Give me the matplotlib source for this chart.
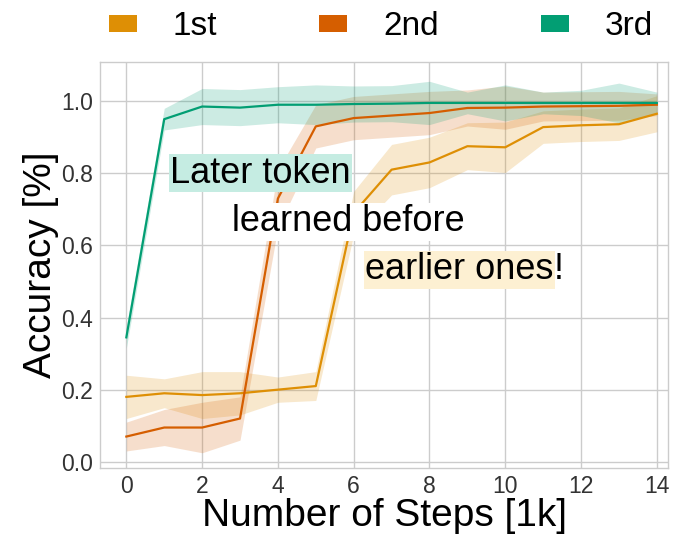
import numpy as np
import matplotlib.pyplot as plt
from matplotlib.patches import Patch

# training steps (in thousands)
steps = np.arange(15)

# mean accuracy per token position
acc_1st = [0.18, 0.19, 0.185, 0.19, 0.20, 0.21, 0.69, 0.81, 0.83, 0.875, 0.872, 0.928, 0.933, 0.936, 0.965]
acc_2nd = [0.07, 0.095, 0.095, 0.12, 0.73, 0.93, 0.953, 0.96, 0.967, 0.981, 0.982, 0.985, 0.986, 0.987, 0.99]
acc_3rd = [0.345, 0.95, 0.985, 0.982, 0.99, 0.99, 0.992, 0.993, 0.995, 0.995, 0.995, 0.995, 0.995, 0.995, 0.995]

# spread (std) across runs
std_1st = [0.06, 0.04, 0.065, 0.06, 0.035, 0.04, 0.06, 0.07, 0.07, 0.065, 0.07, 0.045, 0.045, 0.045, 0.05]
std_2nd = [0.04, 0.05, 0.07, 0.06, 0.08, 0.06, 0.06, 0.06, 0.06, 0.05, 0.06, 0.04, 0.04, 0.04, 0.03]
std_3rd = [0.03, 0.03, 0.05, 0.05, 0.05, 0.055, 0.05, 0.05, 0.06, 0.03, 0.05, 0.03, 0.035, 0.055, 0.03]

labels = ["1st", "2nd", "3rd"]
colors = ["#DE8F05", "#D55E00", "#029E73"]

plt.rcParams['font.family'] = ['Liberation Sans', 'DejaVu Sans']

fig = plt.figure(figsize=(6.77, 5.36), dpi=100)
ax = fig.add_axes([0.148, 0.127, 0.839, 0.757])

for mean, sd, c in zip([acc_1st, acc_2nd, acc_3rd], [std_1st, std_2nd, std_3rd], colors):
    mean = np.array(mean)
    sd = np.array(sd)
    ax.fill_between(steps, mean - sd, mean + sd, color=c, alpha=0.2, lw=0)
    ax.plot(steps, mean, color=c, lw=1.6)

ax.set_xlim(-0.69, 14.3)
ax.set_ylim(-0.017, 1.108)
ax.set_xticks(range(0, 15, 2))
ax.set_yticks([0.0, 0.2, 0.4, 0.6, 0.8, 1.0])
ax.set_yticklabels(["0.0", "0.2", "0.4", "0.6", "0.8", "1.0"])
ax.tick_params(labelsize=16.5, colors="#333333", length=0)
ax.tick_params(axis="x", pad=5)
ax.tick_params(axis="y", pad=5)
ax.grid(True, color="#cccccc", lw=1)
ax.set_axisbelow(True)
for s in ax.spines.values():
    s.set_color("#cccccc")
    s.set_linewidth(1)

ax.set_xlabel("Number of Steps [1k]", fontsize=28, labelpad=0)
ax.set_ylabel("Accuracy [%]", fontsize=28, labelpad=2)

# annotation
ax.text(1.16, 0.80, "Later token", fontsize=26, va="center", ha="left",
        bbox=dict(facecolor="#c5ece2", edgecolor="none", pad=1))
ax.text(2.8, 0.665, "learned before", fontsize=26, va="center", ha="left",
        bbox=dict(facecolor="white", edgecolor="none", pad=1))
t = ax.text(6.3, 0.532, "earlier ones", fontsize=26, va="center", ha="left",
            bbox=dict(facecolor="#fdf0d2", edgecolor="none", pad=1))
ax.annotate("!", xy=(1, 0), xycoords=t, va="bottom", ha="left", fontsize=26)

handles = [Patch(facecolor=c, edgecolor="none") for c in colors]
fig.legend(handles, labels, loc="center", bbox_to_anchor=(0.563, 0.95),
           ncol=3, frameon=False, fontsize=24, handlelength=0.84, handleheight=0.39,
           handletextpad=1.08, columnspacing=3.06, borderpad=0)

fig.savefig("out.png", dpi=100)
